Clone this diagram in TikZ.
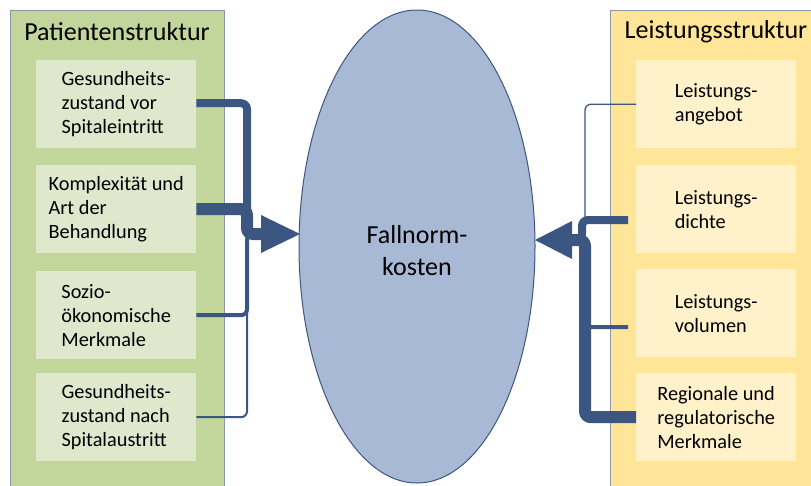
\documentclass[tikz,border=0pt]{standalone}
\usepackage{fontspec}
\setmainfont{Carlito}
\usetikzlibrary{shapes.geometric}
\definecolor{conn}{HTML}{3C5682}
\definecolor{ellfill}{HTML}{A8B9D5}
\definecolor{greenout}{HTML}{C2D69B}
\definecolor{greenin}{HTML}{DFE8CD}
\definecolor{yellout}{HTML}{FFE597}
\definecolor{yellin}{HTML}{FFF1CA}
\definecolor{frame}{HTML}{8A97AB}
\begin{document}
\begin{tikzpicture}[x=1pt,y=-1pt,
  greenbox/.style={fill=greenin, draw=none, minimum width=160pt, minimum height=88pt, anchor=north west, align=left, inner sep=0pt, font=\fontsize{20.3}{24}\selectfont},
  yellbox/.style={fill=yellin, draw=none, minimum width=160pt, minimum height=88pt, anchor=north west, align=left, inner sep=0pt, font=\fontsize{20.3}{24}\selectfont},
  titletext/.style={font=\fontsize{26}{30}\selectfont, inner sep=0pt},
  conn/.style={draw=conn, rounded corners=6pt},
  arrowhead/.style={fill=conn, draw=none}]
\useasboundingbox (0,0) rectangle (811,485);
% outer panels
\fill[greenout] (10,10) rectangle (224,490);
\draw[frame, line width=1pt] (10,490) -- (10,10) -- (224,10) -- (224,490);
\fill[yellout] (610,10) rectangle (815,490);
\draw[frame, line width=1pt] (610,490) -- (610,10) -- (815,10);
\node[titletext] (pt) at (117,32) {Patientenstruktur};
\node[titletext] (lt) at (716,32) {Leistungsstruktur};
% left boxes
\node[greenbox] (p1) at (36,60) {Gesundheits-\\zustand vor\\Spitaleintritt};
\node[greenbox] (p2) at (36,165) {Komplexität und\\Art der\\Behandlung};
\node[greenbox] (p3) at (36,271) {Sozio-\\ökonomische\\Merkmale};
\node[greenbox] (p4) at (36,373) {Gesundheits-\\zustand nach\\Spitalaustritt};
% right boxes
\node[yellbox] (r1) at (636,60) {Leistungs-\\angebot};
\node[yellbox] (r2) at (636,165) {Leistungs-\\dichte};
\node[yellbox] (r3) at (636,269) {Leistungs-\\volumen};
\node[yellbox] (r4) at (636,373) {Regionale und\\regulatorische\\Merkmale};
% ellipse
\node[ellipse, fill=ellfill, draw=conn, line width=1pt, minimum width=236pt, minimum height=473pt] (fk) at (417,246.5) {};
\node[align=center, font=\fontsize{26}{32}\selectfont, inner sep=0pt] (fkt) at (417,251) {Fallnorm-\\kosten};
% left connectors
\coordinate (lbus) at (247,234);
\coordinate (lbase) at (261,234);
\coordinate (ltip) at (300,234);
\draw[conn, line width=2pt] (p4.east) -| (lbus) -- (lbase);
\draw[conn, line width=4pt] (p3.east) -| (lbus) -- (lbase);
\draw[conn, line width=8pt] ([yshift=1pt]p1.east) -| (lbus) -- (lbase);
\draw[conn, line width=12pt] (p2.east) -| (lbus) -- (lbase);
\fill[arrowhead] (ltip) -- ([yshift=19pt]lbase) -- ([yshift=-19pt]lbase) -- cycle;
% right connectors
\coordinate (rbus) at (585,240);
\coordinate (rbusb) at (582,240);
\coordinate (rbase) at (572,240);
\coordinate (rtip) at (535,240);
\coordinate (r2e) at (628,220);
\coordinate (r3e) at (628,327);
\draw[conn, line width=1.3pt] (r1.west) -| (rbus) -- (rbase);
\draw[conn, line width=4pt] (r3e) -| (rbus) -- (rbase);
\draw[conn, line width=8pt] (r2e) -| (rbusb) -- (rbase);
\draw[conn, line width=12pt] (r4.west) -| (rbus) -- (rbase);
\fill[arrowhead] (rtip) -- ([yshift=19pt]rbase) -- ([yshift=-19pt]rbase) -- cycle;
\end{tikzpicture}
\end{document}
